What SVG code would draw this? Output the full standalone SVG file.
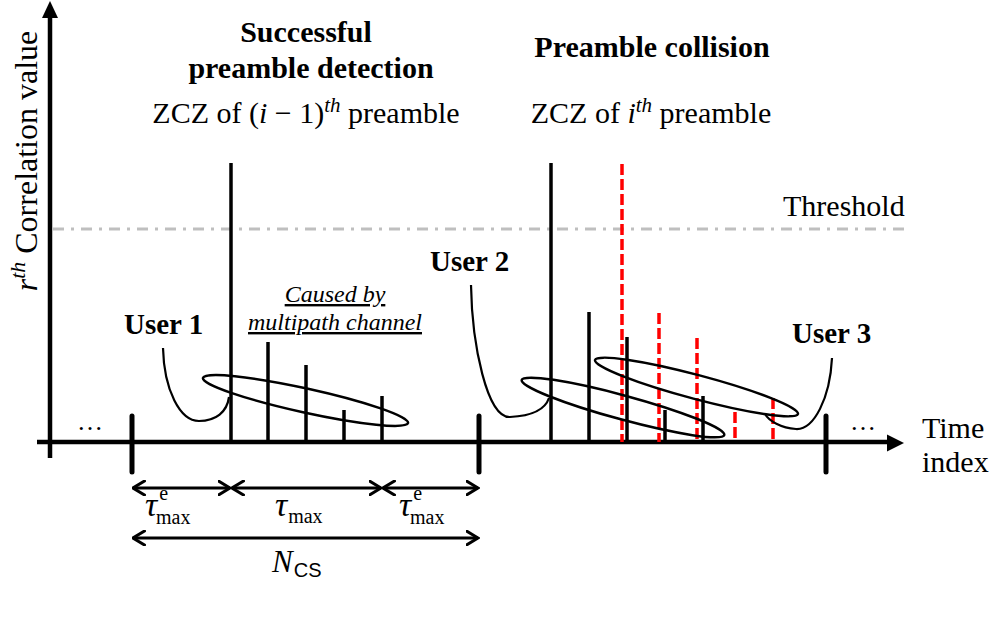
<svg xmlns="http://www.w3.org/2000/svg" width="996" height="641" viewBox="0 0 996 641">
<style>
text{font-family:"Liberation Serif","Times New Roman",serif;fill:#000}
.b{font-weight:bold;font-size:30px}
.u{font-weight:bold;font-size:29px}
.r{font-size:30px}
.it{font-style:italic}
.spk{stroke:#000;stroke-width:3.5;fill:none}
.red{stroke:#ff0000;stroke-width:3.5;stroke-dasharray:11,4;fill:none}
.ell{stroke:#000;stroke-width:2.5;fill:none}
.crv{stroke:#000;stroke-width:2.2;fill:none}
.tick{stroke:#000;stroke-width:5;stroke-linecap:round}
.dim{stroke:#000;stroke-width:3;fill:none;marker-start:url(#chev);marker-end:url(#chev)}
.sub{font-size:20px}
.sans{font-family:"Liberation Sans",Arial,sans-serif}
</style>
<defs>
<marker id="chev" markerUnits="userSpaceOnUse" viewBox="0 0 14 16" refX="12.5" refY="8" markerWidth="14" markerHeight="16" orient="auto-start-reverse">
<path d="M1,1 L12.5,8 L1,15" fill="none" stroke="#000" stroke-width="3" stroke-linecap="round"/>
</marker>
</defs>
<rect width="996" height="641" fill="#fff"/>

<g id="axes">
<line x1="50" y1="458" x2="50" y2="14" stroke="#000" stroke-width="4.5"/>
<polygon points="50,1 42,18 58,18" fill="#000"/>
<line x1="37" y1="442" x2="890" y2="442" stroke="#000" stroke-width="4.5"/>
<polygon points="904,443 887,434.5 887,451.5" fill="#000"/>
<line class="tick" x1="132" y1="416" x2="132" y2="472"/>
<line class="tick" x1="479" y1="416" x2="479" y2="472"/>
<line class="tick" x1="826" y1="416" x2="826" y2="472"/>
</g>

<g id="threshold">
<line x1="53" y1="229" x2="905" y2="229" stroke="#bfbfbf" stroke-width="3" stroke-dasharray="11,7,3,7"/>
<text class="r" x="783" y="216">Threshold</text>
</g>

<g id="user1-spikes">
<line class="spk" x1="231" y1="163" x2="231" y2="442"/>
<line class="spk" x1="268" y1="342" x2="268" y2="442"/>
<line class="spk" x1="306" y1="365" x2="306" y2="442"/>
<line class="spk" x1="344" y1="410" x2="344" y2="442"/>
<line class="spk" x1="382" y1="396" x2="382" y2="442"/>
</g>

<g id="user2-spikes">
<line class="spk" x1="551" y1="163" x2="551" y2="442"/>
<line class="spk" x1="589" y1="312" x2="589" y2="442"/>
<line class="spk" x1="627" y1="337" x2="627" y2="442"/>
<line class="spk" x1="665" y1="410" x2="665" y2="442"/>
<line class="spk" x1="703" y1="396" x2="703" y2="442"/>
</g>

<g id="user3-spikes">
<line class="red" x1="622" y1="164" x2="622" y2="442"/>
<line class="red" x1="659" y1="313" x2="659" y2="442"/>
<line class="red" x1="697" y1="338" x2="697" y2="442"/>
<line class="red" x1="735" y1="412" x2="735" y2="442"/>
<line class="red" x1="773" y1="398" x2="773" y2="442"/>
</g>

<g id="connectors">
<ellipse class="ell" cx="305.5" cy="400.5" rx="105" ry="12" transform="rotate(12.4 305.5 400.5)"/>
<ellipse class="ell" cx="623" cy="407.5" rx="105" ry="12" transform="rotate(15.2 623 407.5)"/>
<ellipse class="ell" cx="696.5" cy="387" rx="105" ry="12" transform="rotate(14.9 696.5 387)"/>
<path class="crv" d="M163,348 C164,390 180,421 199,421 C216,421 227,412 229,397"/>
<path class="crv" d="M471,285 C472,345 487,418 510,417 C530,416 545,410 549,398"/>
<path class="crv" d="M832,358 C830,398 814,430 796,429 C781,428 769,421 765,414"/>
<line class="dim" x1="133" y1="488" x2="230" y2="488"/>
<line class="dim" x1="232" y1="488" x2="381" y2="488"/>
<line class="dim" x1="383" y1="488" x2="478" y2="488"/>
<line class="dim" x1="133" y1="538" x2="478" y2="538"/>
</g>

<g id="labels">
<text class="b" x="306" y="42" text-anchor="middle">Successful</text>
<text class="b" x="311" y="78" text-anchor="middle">preamble detection</text>
<text class="r" x="306" y="123" text-anchor="middle">ZCZ of (<tspan class="it">i</tspan> − 1)<tspan class="it" font-size="21" dy="-11">th</tspan><tspan dy="11"> preamble</tspan></text>
<text class="b" x="652" y="57" text-anchor="middle">Preamble collision</text>
<text class="r" x="651" y="123" text-anchor="middle">ZCZ of <tspan class="it">i</tspan><tspan class="it" font-size="21" dy="-11">th</tspan><tspan dy="11"> preamble</tspan></text>
<text class="u" x="124" y="334">User 1</text>
<text class="u" x="430" y="271">User 2</text>
<text class="u" x="792" y="343">User 3</text>
<text class="it" font-size="24" x="335" y="302" text-anchor="middle" text-decoration="underline">Caused by</text>
<text class="it" font-size="24" x="335" y="330" text-anchor="middle" text-decoration="underline">multipath channel</text>
<text font-size="26" x="77" y="430">…</text>
<text font-size="26" x="850" y="430">…</text>
<text class="r" x="922" y="438">Time</text>
<text class="r" x="922" y="472">index</text>
<text font-size="32" transform="translate(37,161) rotate(-90)" text-anchor="middle"><tspan class="it">r</tspan><tspan class="it" font-size="22" dy="-12">th</tspan><tspan dy="12"> Correlation value</tspan></text>
<text font-size="34" x="145" y="516"><tspan class="it">τ</tspan><tspan class="sub" dx="2" dy="-16">e</tspan><tspan class="sub" dx="-12" dy="24">max</tspan></text>
<text font-size="34" x="275" y="516"><tspan class="it">τ</tspan><tspan class="sub" dx="1" dy="7">max</tspan></text>
<text font-size="34" x="399" y="516"><tspan class="it">τ</tspan><tspan class="sub" dx="2" dy="-16">e</tspan><tspan class="sub" dx="-12" dy="24">max</tspan></text>
<text font-size="31" x="272" y="572"><tspan class="it">N</tspan><tspan class="sub sans" dx="1" dy="5">CS</tspan></text>
</g>
</svg>
